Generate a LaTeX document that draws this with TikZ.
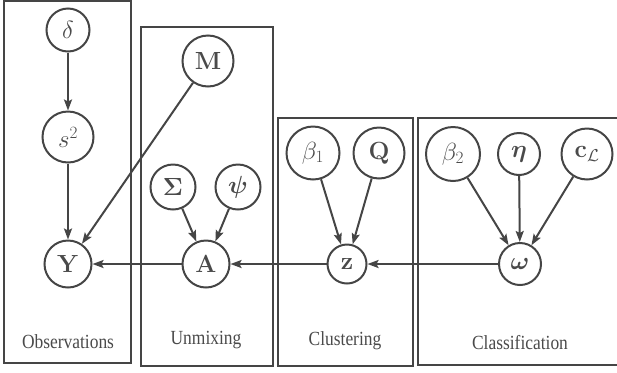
\documentclass[tikz,border=0pt]{standalone}
\usepackage{amsmath,amssymb,bm}
\usepackage[no-math]{fontspec}
\setmainfont{Liberation Serif}
\usetikzlibrary{arrows.meta}
\definecolor{ink}{HTML}{454545}
\definecolor{txt}{HTML}{4a4a4a}
\begin{document}
\begin{tikzpicture}[x=1bp,y=-1bp,
  var/.style={circle,draw=ink,line width=2bp,inner sep=0pt,text=txt,
    font=\fontsize{24}{28}\selectfont},
  plate/.style={draw=ink,line width=2.3bp},
  platelabel/.style={text=txt,font=\fontsize{17.5}{20}\selectfont,inner sep=0pt},
  edge/.style={draw=ink,line width=2bp,-{Stealth[length=11bp,width=8bp,inset=2bp]}}]
\useasboundingbox (0,0) rectangle (617,372);
% plates
\draw[plate] (4,1) rectangle (131,363);
\draw[plate] (141,27) rectangle (273,366);
\draw[plate] (278,118) rectangle (413,366);
\draw[plate] (418,118) rectangle (625,365);
\node[platelabel] (lobs) at (68,342) {\scalebox{1}[1.15]{Observations}};
\node[platelabel] (lunm) at (206,340) {\scalebox{1}[1.15]{Unmixing}};
\node[platelabel] (lclu) at (345,341) {\scalebox{1}[1.15]{Clustering}};
\node[platelabel] (lcla) at (520,343) {\scalebox{1}[1.15]{Classification}};
% nodes
\node[var,minimum size=43bp] (delta) at (68,30) {$\delta$};
\node[var,minimum size=51bp] (s2) at (68,137) {$s^2$};
\node[var,minimum size=47bp] (Y) at (68,264) {$\mathbf{Y}$};
\node[var,minimum size=51bp] (M) at (208,61) {$\mathbf{M}$};
\node[var,minimum size=45bp] (Sig) at (173,187) {$\mathbf{\Sigma}$};
\node[var,minimum size=45bp] (psi) at (238,187) {$\bm{\psi}$};
\node[var,minimum size=47bp] (A) at (206,264) {$\mathbf{A}$};
\node[var,minimum size=53bp] (b1) at (313,153) {$\beta_1$};
\node[var,minimum size=51bp] (Q) at (379,153) {$\mathbf{Q}$};
\node[var,minimum size=39bp] (z) at (347,264) {$\mathbf{z}$};
\node[var,minimum size=54bp] (b2) at (453,154) {$\beta_2$};
\node[var,minimum size=42bp] (eta) at (519,154) {$\bm{\eta}$};
\node[var,minimum size=51bp] (cL) at (587,154) {$\mathbf{c}_{\mathcal{L}}$};
\node[var,minimum size=42bp] (om) at (520,264) {$\bm{\omega}$};
% edges
\draw[edge] (delta) -- (s2);
\draw[edge] (s2) -- (Y);
\draw[edge] (M) -- (Y);
\draw[edge] (Sig) -- (A);
\draw[edge] (psi) -- (A);
\draw[edge] (A) -- (Y);
\draw[edge] (b1) -- (z);
\draw[edge] (Q) -- (z);
\draw[edge] (z) -- (A);
\draw[edge] (b2) -- (om);
\draw[edge] (eta) -- (om);
\draw[edge] (cL) -- (om);
\draw[edge] (om) -- (z);
\end{tikzpicture}
\end{document}
